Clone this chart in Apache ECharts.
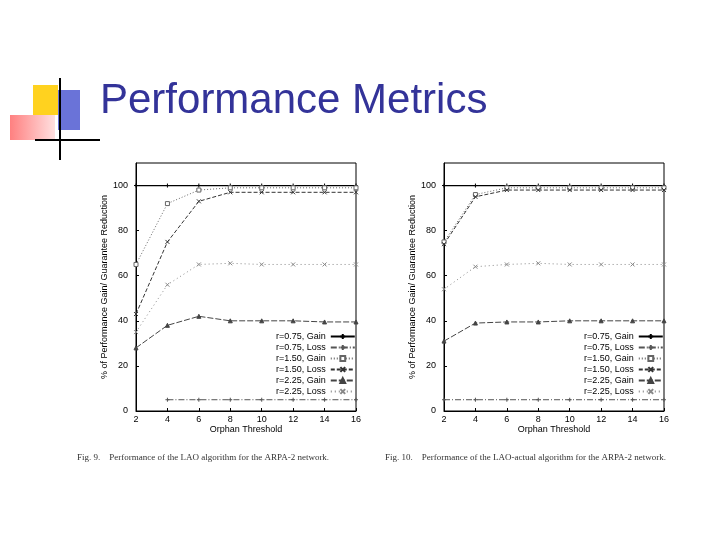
<!DOCTYPE html>
<html><head><meta charset="utf-8">
<script src="https://cdn.jsdelivr.net/npm/echarts@6/dist/echarts.min.js"></script>
<style>html,body{margin:0;padding:0;background:#fff}#c{width:720px;height:540px}</style>
</head><body><div id="c"></div>
<script>
const xCats = [2,4,6,8,10,12,14,16];
const names = ['r=0.75, Gain','r=0.75, Loss','r=1.50, Gain','r=1.50, Loss','r=2.25, Gain','r=2.25, Loss'];
const left = [
  [100,100,100,100,100,100,100,100],
  [null,5,5,5,5,5,5,5],
  [65,92,98,99,99,99,99,99],
  [43,75,93,97,97,97,97,97],
  [28,38,42,40,40,40,39.5,39.5],
  [35,56,65,65.5,65,65,65,65]
];
const right = [
  [100,100,100,100,100,100,100,100],
  [5,5,5,5,5,5,5,5],
  [75,96,99,99,99,99,99,99],
  [74,95,98,98,98,98,98,98],
  [31,39,39.5,39.5,40,40,40,40],
  [54,64,65,65.5,65,65,65,65]
];
const yTicks = [0,20,40,60,80,100];
const styles = [
  {type:'solid',color:'#000',sym:'path://M0,5L10,5M5,0L5,10'},
  {type:[6,2,1,2],color:'#555',sym:'path://M0,5L10,5M5,0L5,10'},
  {type:[1,2],color:'#666',sym:'rect'},
  {type:[4,2],color:'#333',sym:'path://M0,0L10,10M10,0L0,10'},
  {type:[6,2],color:'#444',sym:'triangle'},
  {type:[1,3],color:'#888',sym:'path://M0,0L10,10M10,0L0,10'}
];
const grids=[{left:136,top:163,width:220,height:248},{left:444,top:163,width:220,height:248}];
function mkSeries(data,gi){
  return data.map((d,i)=>({name:names[i],type:'line',xAxisIndex:gi,yAxisIndex:gi,data:d.map((v,k)=>[xCats[k],v]),
    lineStyle:{type:styles[i].type,color:styles[i].color,width:i===0?1.3:1},itemStyle:{color:styles[i].sym==='rect'?'#fff':styles[i].color,borderColor:styles[i].color,borderWidth:1},
    symbol:styles[i].sym,symbolSize:4,showSymbol:true,animation:false}));
}
const xAx=gi=>({type:'value',gridIndex:gi,min:2,max:16,interval:2,name:'Orphan Threshold',nameLocation:'middle',nameGap:12,
  nameTextStyle:{fontSize:9,fontFamily:'Liberation Sans Narrow, Liberation Sans',color:'#000'},
  axisLine:{lineStyle:{color:'#000'}},axisTick:{inside:true,length:3,lineStyle:{color:'#000'}},splitLine:{show:false},
  axisLabel:{fontSize:9,margin:4,color:'#000',fontFamily:'Liberation Sans Narrow, Liberation Sans'}});
const yAx=gi=>({type:'value',gridIndex:gi,min:0,max:110,interval:20,name:'% of Performance Gain/ Guarantee Reduction',nameLocation:'middle',nameGap:24,
  nameTextStyle:{fontSize:9,fontFamily:'Liberation Sans',color:'#000'},
  axisLine:{lineStyle:{color:'#000'}},axisTick:{inside:true,length:3,lineStyle:{color:'#000'}},splitLine:{show:false},
  axisLabel:{fontSize:9,margin:8,color:'#000',showMaxLabel:false,fontFamily:'Liberation Sans Narrow, Liberation Sans',
    formatter:v=>yTicks.includes(v)?String(v):''}});
const lg=(l)=>({orient:'vertical',left:l,top:327,align:'right',itemWidth:24,itemHeight:6,itemGap:2,
  textStyle:{fontSize:9,color:'#000',fontFamily:'Liberation Sans Narrow, Liberation Sans'},data:names,selectedMode:false});
const chart=echarts.init(document.getElementById('c'));
chart.setOption({
  animation:false,
  grid:grids.map(g=>Object.assign({show:true,borderColor:'#000',borderWidth:1},g)),
  xAxis:[xAx(0),xAx(1)],yAxis:[yAx(0),yAx(1)],
  legend:[lg(271),lg(579)],
  series:[...mkSeries(left,0),...mkSeries(right,1)],
  graphic:[
    {type:'rect',shape:{x:33,y:85,width:25,height:30},style:{fill:'#ffd21f'}},
    {type:'rect',shape:{x:58,y:90,width:22,height:40},style:{fill:'#6a73d8'}},
    {type:'rect',shape:{x:10,y:115,width:45,height:25},style:{fill:new echarts.graphic.LinearGradient(0,0,1,0,[{offset:0,color:'#ff8080'},{offset:1,color:'#ffe0e0'}])}},
    {type:'line',shape:{x1:60,y1:78,x2:60,y2:160},style:{stroke:'#000',lineWidth:2}},
    {type:'line',shape:{x1:35,y1:140,x2:100,y2:140},style:{stroke:'#000',lineWidth:2}},
    {type:'text',left:100,top:80,style:{text:'Performance Metrics',fontSize:42,fill:'#333399',fontFamily:'Liberation Sans'}},
    {type:'text',left:77,top:453,style:{text:'Fig. 9.    Performance of the LAO algorithm for the ARPA-2 network.',fontSize:9,fill:'#333',fontFamily:'Liberation Serif'}},
    {type:'text',left:385,top:453,style:{text:'Fig. 10.    Performance of the LAO-actual algorithm for the ARPA-2 network.',fontSize:9,fill:'#333',fontFamily:'Liberation Serif'}}
  ]
});
</script></body></html>
